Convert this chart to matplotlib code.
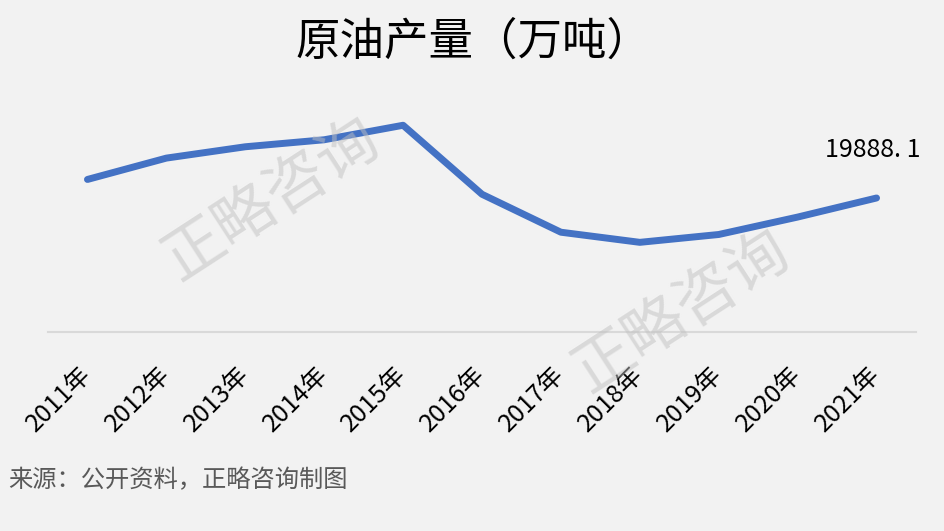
import matplotlib
matplotlib.use('Agg')
import matplotlib.pyplot as plt

plt.rcParams['font.family'] = ['Noto Sans CJK SC', 'DejaVu Sans']

# 数据
years = ['2011年', '2012年', '2013年', '2014年', '2015年', '2016年',
         '2017年', '2018年', '2019年', '2020年', '2021年']
output = [20287.6, 20747.8, 20991.9, 21142.9, 21455.6, 19968.5,
          19150.6, 18932.4, 19101.4, 19476.9, 19888.1]
last_label = '19888. 1'

bg = '#f2f2f2'
fig = plt.figure(figsize=(9.44, 5.31), dpi=100, facecolor=bg)
ax = fig.add_axes([48/944, 1-332/531, (916-48)/944, (332-100)/531], facecolor=bg)

x = list(range(len(years)))
ax.plot(x, output, color='#4472c4', linewidth=5, solid_joinstyle='round',
        solid_capstyle='round', zorder=3)

ax.set_xlim(-0.5, len(years) - 0.5)
ax.set_ylim(17000, 22000)

for s in ['top', 'right', 'left']:
    ax.spines[s].set_visible(False)
ax.spines['bottom'].set_color('#d9d9d9')
ax.spines['bottom'].set_linewidth(1.5)
ax.set_yticks([])
ax.set_xticks(x)
ax.set_xticklabels(years, rotation=45, ha='right', va='center',
                   rotation_mode='anchor', fontsize=18, color='#000000')
ax.tick_params(axis='x', length=0, pad=28)

# 最后一个点的数据标签
ax.annotate(last_label, (x[-1], output[-1]), xytext=(-3, 25),
            textcoords='offset points', ha='center', va='bottom',
            fontsize=18, color='#000000')

fig.text(473/944, 1-42/531, '原油产量（万吨）', ha='center', va='center',
         fontsize=32, color='#000000')

fig.text(8/944, 1-480/531, '来源：公开资料，正略咨询制图', ha='left', va='center',
         fontsize=17.5, color='#595959')

# 水印
for cx, cy in [(272, 200), (682, 312)]:
    fig.text(cx/944, 1-cy/531, '正略咨询', ha='center', va='center',
             fontsize=44, color='#c0c0c0', alpha=0.5, rotation=33,
             zorder=5)

fig.savefig('out.png', dpi=100, facecolor=bg)
